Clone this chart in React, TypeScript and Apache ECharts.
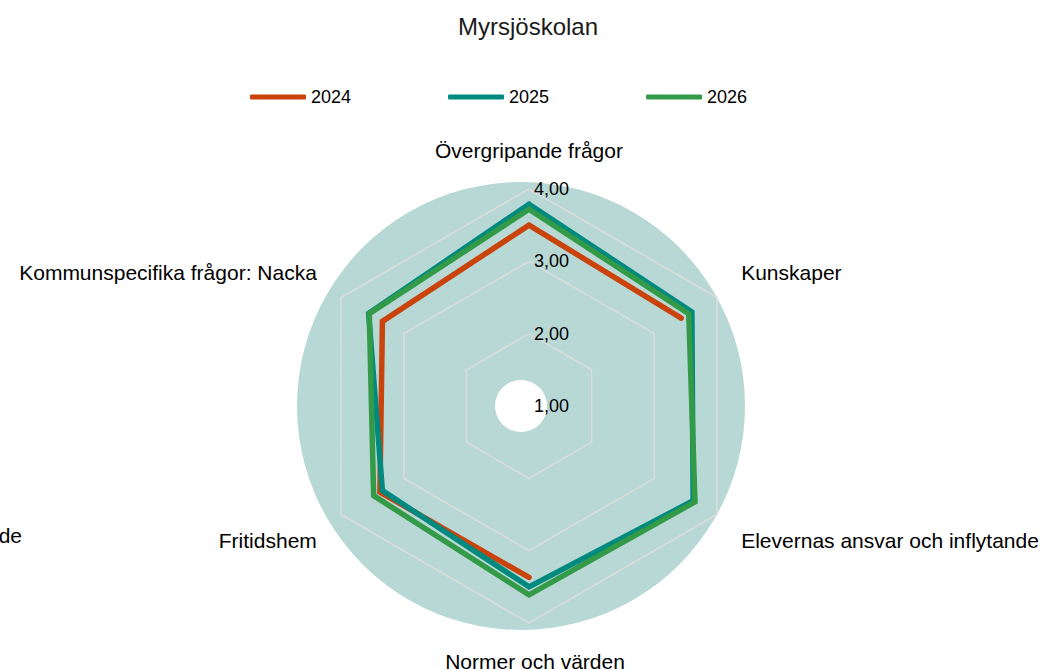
import React, { useEffect, useRef } from "react";
import * as echarts from "echarts";

const TITLE = "Myrsjöskolan";
const INDICATORS = [
  "Övergripande frågor",
  "Kunskaper",
  "Elevernas ansvar och inflytande",
  "Normer och värden",
  "Fritidshem",
  "Kommunspecifika frågor: Nacka",
];
const YEARS = ["2024", "2025", "2026"];
const V2024: (number | null)[] = [3.5, 3.43, null, 3.37, 3.38, 3.34];
const V2025: (number | null)[] = [3.79, 3.6, 3.62, 3.5, 3.34, 3.56];
const V2026: (number | null)[] = [3.72, 3.55, 3.65, 3.61, 3.48, 3.55];
const SERIES_VALUES = [V2024, V2025, V2026];
const COLORS = ["#c9430b", "#00897f", "#339a48"];
const TICK_VALUES = [1, 2, 3, 4];
const TICK_LABELS = ["1,00", "2,00", "3,00", "4,00"];

const CX = 529;
const CY = 406;
const R = 217;

function toPolar(vals: (number | null)[]) {
  const n = vals.length;
  const pts: any[] = vals.map((v, i) => [v == null ? "-" : v, (i * 360) / n]);
  pts.push([vals[0] == null ? "-" : vals[0], 360]);
  return pts;
}

export default function App() {
  const ref = useRef<HTMLDivElement>(null);
  useEffect(() => {
    if (!ref.current) return;
    const chart = echarts.init(ref.current, undefined, { renderer: "svg" });
    const n = INDICATORS.length;
    // radar lays out counter-clockwise; reorder so names run clockwise
    const radarOrder = [0, ...Array.from({ length: n - 1 }, (_, k) => n - 1 - k)];
    const styleFor = (idx: number) => {
      if (idx === 0) return "top";
      if (idx === 3) return "bottom";
      if (idx === 1 || idx === 5) return "up";
      return "down";
    };
    const nameFont = { fontSize: 21, color: "#000", fontFamily: "Liberation Sans, Arial, sans-serif" };
    chart.setOption({
      animation: false,
      title: {
        text: TITLE,
        left: 453,
        top: 9,
        textStyle: { fontSize: 24, fontWeight: "normal", color: "#1a1a1a", fontFamily: "Liberation Sans, Arial, sans-serif" },
      },
      legend: {
        data: YEARS,
        left: 245,
        top: 83,
        icon: "roundRect",
        itemWidth: 56,
        itemHeight: 5,
        itemGap: 97,
        textStyle: { fontSize: 18, color: "#000", fontFamily: "Liberation Sans, Arial, sans-serif" },
      },
      graphic: [
        {
          type: "ring",
          z: -10,
          silent: true,
          shape: { cx: 521, cy: 406, r: 224, r0: 26 },
          style: { fill: "#b8d8d5" },
        },
        {
          type: "text",
          z: -10,
          silent: true,
          x: 22,
          y: 535,
          style: {
            text: INDICATORS[2],
            fontSize: 21,
            fill: "#000",
            fontFamily: "Liberation Sans, Arial, sans-serif",
            textAlign: "right",
            textVerticalAlign: "middle",
          },
        },
      ],
      radar: {
        center: [CX, CY],
        radius: R,
        shape: "polygon",
        splitNumber: 3,
        nameGap: 28,
        indicator: radarOrder.map((i) => ({ name: INDICATORS[i], min: TICK_VALUES[0], max: TICK_VALUES[TICK_VALUES.length - 1] })),
        axisName: {
          ...nameFont,
          formatter: (name: string) => `{${styleFor(INDICATORS.indexOf(name))}|${name}}`,
          rich: {
            top: { ...nameFont },
            bottom: { ...nameFont, padding: [0, 0, 0, 12] },
            up: { ...nameFont, padding: [0, 0, 23, 0] },
            down: { ...nameFont, padding: [23, 0, 0, 0] },
          },
        },
        axisLine: { show: false },
        axisTick: { show: false },
        axisLabel: { show: false },
        splitArea: { show: false },
        splitLine: { lineStyle: { color: "#dcdcdc", width: 1.5 } },
      },
      polar: { center: [CX, CY], radius: R },
      angleAxis: {
        type: "value",
        min: 0,
        max: 360,
        startAngle: 90,
        clockwise: true,
        show: false,
      },
      radiusAxis: {
        type: "value",
        min: TICK_VALUES[0],
        max: TICK_VALUES[TICK_VALUES.length - 1],
        interval: 1,
        axisLine: { show: false },
        axisTick: { show: false },
        splitLine: { show: false },
        axisLabel: {
          show: true,
          margin: -5,
          align: "left",
          fontSize: 18,
          color: "#000",
          fontFamily: "Liberation Sans, Arial, sans-serif",
          formatter: (v: number) => TICK_LABELS[TICK_VALUES.indexOf(Math.round(v))] ?? "",
        },
        z: 5,
      },
      series: YEARS.map((y, k) => ({
        name: y,
        type: "line",
        coordinateSystem: "polar",
        data: toPolar(SERIES_VALUES[k]),
        symbol: "none",
        silent: true,
        connectNulls: false,
        itemStyle: { color: COLORS[k] },
        lineStyle: { color: COLORS[k], width: 5.5, cap: "round", join: "miter" },
        z: 3 + k,
      })),
    });
    return () => chart.dispose();
  }, []);
  return (
    <div
      ref={ref}
      style={{ position: "absolute", left: 0, top: 0, width: 1042, height: 669 }}
    />
  );
}
